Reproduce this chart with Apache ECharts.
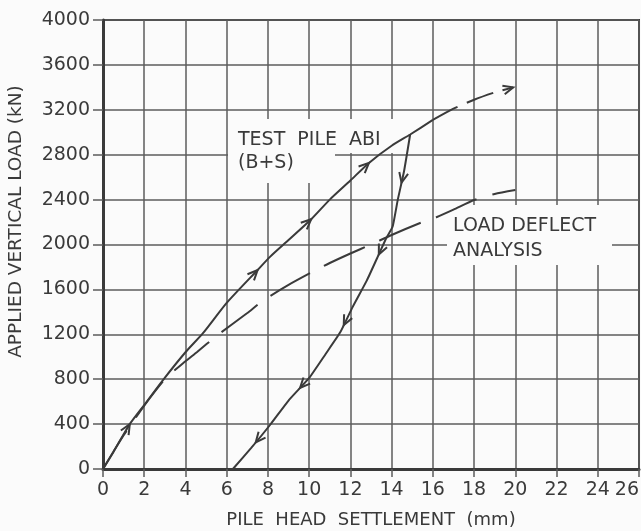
<!DOCTYPE html>
<html>
<head>
<meta charset="utf-8">
<script src="https://cdn.jsdelivr.net/npm/echarts@6/dist/echarts.min.js"></script>
<style>
html,body{margin:0;padding:0;background:#fbfbfb;}
#chart{width:641px;height:531px;}
</style>
</head>
<body>
<div id="chart"></div>
<script>
// ---- data (settlement mm, load kN) ----
const loadingCurve = [[0,0],[0.5,150],[1.3,400],[2,570],[2.9,790],[4,1040],[4.85,1210],[6,1480],[7.5,1773],[8.1,1890],[9,2040],[10.1,2225],[11,2400],[12,2570],[12.9,2727],[14,2880],[14.9,2980],[16,3110]];
const continuationCurve = [[16,3110],[17,3210],[18,3290],[19,3355],[19.9,3400]];
const unloadingCurve = [[14.9,2980],[14.6,2650],[14.3,2400],[14.05,2160],[13.75,2060],[13.3,1880],[12.8,1680],[12.1,1440],[11.5,1215],[10.8,1025],[10,811],[9,610],[8.1,392],[7.2,190],[6.3,0]];
const analysisCurve = [[0,0],[1,300],[2,565],[3,800],[4,960],[4.55,1040],[5.5,1185],[7,1390],[7.8,1505],[9,1640],[10.15,1755],[11,1835],[12,1920],[13,2000],[14,2085],[15.5,2200],[16.2,2245],[17,2310],[18,2396],[19,2450],[20,2485]];
const loadingArrows = [[1.3,400],[7.5,1773],[10.1,2225],[12.9,2727]];
const unloadingArrows = [[14.5,2550],[13.4,1910],[11.7,1280],[9.7,705],[7.45,232]];
const continuationArrows = [[19.9,3400]];
const xRange = [0, 26, 2];
const yRange = [0, 4000, 400];
const labelTest = ['TEST  PILE  ABI', '(B+S)'];
const labelAnalysis = ['LOAD DEFLECT', 'ANALYSIS'];

const INK = '#3a3a3a';
const GRIDC = '#5c5c5c';
const BG = '#fbfbfb';
const FONT = 'DejaVu Sans';

// place each arrow on the nearest segment of its curve, pointing along it
function arrowItems(curve, pts) {
  return pts.map(p => {
    let best = 0, bestD = Infinity, bestT = 0;
    for (let i = 0; i < curve.length - 1; i++) {
      const a = curve[i], b = curve[i+1];
      const ax = a[0]/26, ay = a[1]/4000, bx = b[0]/26, by = b[1]/4000;
      const px = p[0]/26, py = p[1]/4000;
      const dx = bx-ax, dy = by-ay;
      let t = ((px-ax)*dx + (py-ay)*dy) / (dx*dx + dy*dy || 1);
      t = Math.max(0, Math.min(1, t));
      const d = Math.hypot(ax + t*dx - px, ay + t*dy - py);
      if (d < bestD) { bestD = d; best = i; bestT = t; }
    }
    const a = curve[best], b = curve[best+1];
    const tx = a[0] + bestT*(b[0]-a[0]), ty = a[1] + bestT*(b[1]-a[1]);
    return [tx, ty, a[0], a[1], b[0], b[1]];
  });
}

function arrowSeries(curve, pts) {
  return {
    type: 'custom',
    coordinateSystem: 'cartesian2d',
    z: 4,
    silent: true,
    encode: {x: 0, y: 1},
    data: arrowItems(curve, pts),
    renderItem: function (params, api) {
      const p = api.coord([api.value(0), api.value(1)]);
      const a = api.coord([api.value(2), api.value(3)]);
      const b = api.coord([api.value(4), api.value(5)]);
      const th = Math.atan2(b[1]-a[1], b[0]-a[0]);
      const L = 11, w = 0.42;
      const points = [
        [p[0] - L*Math.cos(th - w), p[1] - L*Math.sin(th - w)],
        p,
        [p[0] - L*Math.cos(th + w), p[1] - L*Math.sin(th + w)]
      ];
      return {type: 'polyline', shape: {points: points}, style: {stroke: INK, lineWidth: 2, fill: null}};
    }
  };
}

const chart = echarts.init(document.getElementById('chart'));
chart.setOption({
  backgroundColor: BG,
  animation: false,
  grid: {left: 103, right: 2, top: 20, bottom: 62, containLabel: false, outerBoundsMode: 'none',
         show: true, borderColor: INK, borderWidth: 2, backgroundColor: 'transparent'},
  xAxis: {
    type: 'value', min: xRange[0], max: xRange[1], interval: xRange[2],
    name: 'PILE  HEAD  SETTLEMENT  (mm)', nameLocation: 'middle', nameGap: 42,
    nameTextStyle: {fontFamily: FONT, fontSize: 18, color: INK},
    axisLine: {show: true, onZero: false, lineStyle: {color: INK, width: 3}},
    axisTick: {show: true, length: 8, lineStyle: {color: GRIDC, width: 1.5}},
    axisLabel: {fontFamily: FONT, fontSize: 19, color: INK, margin: 12, alignMaxLabel: 'right'},
    splitLine: {show: true, lineStyle: {color: GRIDC, width: 1.5}}
  },
  yAxis: {
    type: 'value', min: yRange[0], max: yRange[1], interval: yRange[2],
    name: 'APPLIED VERTICAL LOAD (kN)', nameLocation: 'middle', nameGap: 77, nameRotate: 90,
    nameTextStyle: {fontFamily: FONT, fontSize: 18.5, color: INK, padding: [0, 0, 0, 46]},
    axisLine: {show: true, onZero: false, lineStyle: {color: INK, width: 3}},
    axisTick: {show: true, length: 10, lineStyle: {color: GRIDC, width: 1.5}},
    axisLabel: {fontFamily: FONT, fontSize: 19, color: INK, margin: 13, formatter: v => String(v)},
    splitLine: {show: true, lineStyle: {color: GRIDC, width: 1.5}}
  },
  graphic: [
    {type: 'rect', z: 1, shape: {x: 231, y: 119, width: 163, height: 34}, style: {fill: BG}},
    {type: 'rect', z: 1, shape: {x: 228, y: 153, width: 107, height: 30}, style: {fill: BG}},
    {type: 'rect', z: 1, shape: {x: 447, y: 205, width: 165, height: 60}, style: {fill: BG}},
    {type: 'text', z: 1, left: 238, top: 131, style: {text: labelTest[0], font: '19px "DejaVu Sans"', fill: INK}},
    {type: 'text', z: 1, left: 238, top: 154, style: {text: labelTest[1], font: '19px "DejaVu Sans"', fill: INK}},
    {type: 'text', z: 1, left: 453, top: 217, style: {text: labelAnalysis[0], font: '19px "DejaVu Sans"', fill: INK}},
    {type: 'text', z: 1, left: 453, top: 242, style: {text: labelAnalysis[1], font: '19px "DejaVu Sans"', fill: INK}}
  ],
  series: [
    {type: 'line', data: analysisCurve, showSymbol: false, smooth: 0.2, z: 3,
     lineStyle: {color: INK, width: 2, type: [45, 16]}},
    {type: 'line', data: loadingCurve, showSymbol: false, smooth: 0.2, z: 3,
     lineStyle: {color: INK, width: 2}},
    {type: 'line', data: continuationCurve, showSymbol: false, smooth: 0.2, z: 3,
     lineStyle: {color: INK, width: 2, type: [28, 10]}},
    {type: 'line', data: unloadingCurve, showSymbol: false, smooth: 0.15, z: 3,
     lineStyle: {color: INK, width: 2}},
    arrowSeries(loadingCurve, loadingArrows),
    arrowSeries(unloadingCurve, unloadingArrows),
    arrowSeries(continuationCurve, continuationArrows)
  ]
});
</script>
</body>
</html>
